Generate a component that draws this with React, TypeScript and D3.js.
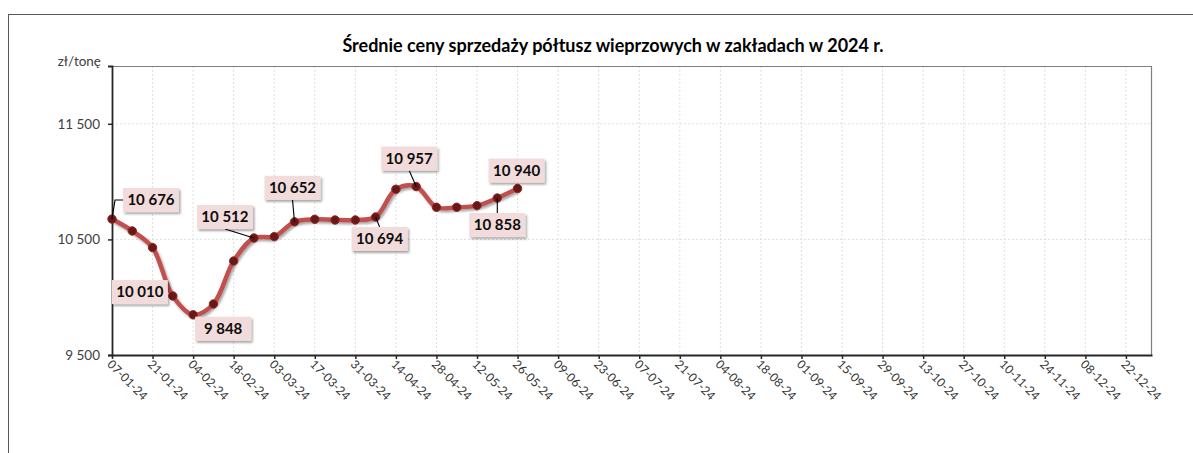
import React, { useEffect, useRef } from 'react';
import * as d3 from 'd3';

// weekly average prices (zl/tone), week starting dates
const weekDates = [
  '2024-01-07', '2024-01-14', '2024-01-21', '2024-01-28', '2024-02-04', '2024-02-11', '2024-02-18',
  '2024-02-25', '2024-03-03', '2024-03-10', '2024-03-17', '2024-03-24', '2024-03-31', '2024-04-07',
  '2024-04-14', '2024-04-21', '2024-04-28', '2024-05-05', '2024-05-12', '2024-05-19', '2024-05-26',
];
const prices = [
  10676, 10573, 10429, 10010, 9848, 9941, 10313,
  10512, 10524, 10652, 10674, 10668, 10668, 10694,
  10934, 10957, 10778, 10778, 10792, 10858, 10940,
];
const labeledWeeks = [0, 3, 4, 7, 9, 13, 15, 19, 20];

const tickDates = [
  '2024-01-07', '2024-01-21', '2024-02-04', '2024-02-18', '2024-03-03', '2024-03-17', '2024-03-31',
  '2024-04-14', '2024-04-28', '2024-05-12', '2024-05-26', '2024-06-09', '2024-06-23', '2024-07-07',
  '2024-07-21', '2024-08-04', '2024-08-18', '2024-09-01', '2024-09-15', '2024-09-29', '2024-10-13',
  '2024-10-27', '2024-11-10', '2024-11-24', '2024-12-08', '2024-12-22',
];
const yTicks = [9500, 10500, 11500];

const title = 'Średnie ceny sprzedaży półtusz wieprzowych w zakładach w 2024 r.';
const unitLabel = 'zł/tonę';

// where each data label box sits relative to its point, and how the leader line attaches
const labelPlacement: { dx: number; dy: number; leader: string }[] = [
  { dx: 39, dy: -19, leader: 'left' },
  { dx: -33, dy: -4, leader: 'none' },
  { dx: 30, dy: 14, leader: 'none' },
  { dx: -29, dy: -21, leader: 'bottom' },
  { dx: -2, dy: -34, leader: 'bottom' },
  { dx: 4, dy: 22, leader: 'top' },
  { dx: -7, dy: -28, leader: 'bottom' },
  { dx: 0, dy: 27, leader: 'top' },
  { dx: -1, dy: -18, leader: 'none' },
];

const W = 1193;
const H = 453;
const font = "Lato, 'Open Sans', sans-serif";
const fmt = (v: number) => d3.format(',')(v).replace(',', ' ');

function App() {
  const ref = useRef<SVGSVGElement>(null);

  useEffect(() => {
    const svg = d3.select(ref.current);
    svg.selectAll('*').remove();
    const parse = d3.timeParse('%Y-%m-%d');

    const left = 112, right = 1152, top = 66, bottom = 355;
    const x = d3.scaleTime()
      .domain([parse('2024-01-07') as Date, parse('2024-12-31') as Date])
      .range([left, right]);
    const y = d3.scaleLinear().domain([9500, 12000]).range([bottom, top]);

    const defs = svg.append('defs');
    defs.append('filter').attr('id', 'shadow')
      .attr('x', '-20%').attr('y', '-20%').attr('width', '150%').attr('height', '160%')
      .append('feDropShadow')
      .attr('dx', 1.5).attr('dy', 2).attr('stdDeviation', 1.2)
      .attr('flood-color', '#000').attr('flood-opacity', 0.35);

    // outer chart frame
    svg.append('line').attr('x1', 8).attr('x2', W).attr('y1', 14.5).attr('y2', 14.5)
      .attr('stroke', '#595959').attr('stroke-width', 1);
    svg.append('line').attr('x1', 8.5).attr('x2', 8.5).attr('y1', 14).attr('y2', H)
      .attr('stroke', '#595959').attr('stroke-width', 1);

    svg.append('text')
      .attr('x', 613).attr('y', 52)
      .attr('text-anchor', 'middle')
      .style('font-family', font).style('font-weight', 700).style('font-size', '18px')
      .attr('fill', '#000')
      .text(title);

    svg.append('text')
      .attr('x', 101).attr('y', 66)
      .attr('text-anchor', 'end')
      .style('font-family', font).style('font-size', '13.5px')
      .attr('fill', '#404040')
      .text(unitLabel);

    // gridlines
    const ticks = tickDates.map(d => parse(d) as Date);
    svg.append('g').selectAll('line').data(ticks.slice(1)).join('line')
      .attr('x1', d => x(d)).attr('x2', d => x(d))
      .attr('y1', top).attr('y2', bottom)
      .attr('stroke', '#dedede').attr('stroke-dasharray', '2,2');
    svg.append('g').selectAll('line').data(yTicks.slice(1)).join('line')
      .attr('x1', left).attr('x2', right)
      .attr('y1', d => y(d)).attr('y2', d => y(d))
      .attr('stroke', '#dedede').attr('stroke-dasharray', '2,2');

    // plot frame (top, right)
    svg.append('path')
      .attr('d', `M${left},${top + 0.5}H${right - 0.5}V${bottom}`)
      .attr('fill', 'none').attr('stroke', '#7f7f7f').attr('stroke-width', 1.2);

    // axes
    const yAxis = svg.append('g').attr('transform', `translate(${left},0)`)
      .call(d3.axisLeft(y).tickValues(yTicks).tickSize(4).tickFormat(d => fmt(d as number)));
    yAxis.select('.domain').attr('stroke', '#262626').attr('stroke-width', 1.8);
    yAxis.selectAll('.tick line').attr('stroke', '#262626').attr('stroke-width', 1.5);
    yAxis.selectAll('.tick text')
      .attr('x', -12)
      .style('font-family', font).style('font-size', '13.5px').attr('fill', '#404040');

    const xAxis = svg.append('g').attr('transform', `translate(0,${bottom})`)
      .call(d3.axisBottom(x).tickValues(ticks).tickSize(4).tickSizeOuter(0)
        .tickFormat(d => d3.timeFormat('%d-%m-%y')(d as Date)));
    xAxis.select('.domain').attr('stroke', '#262626').attr('stroke-width', 1.8);
    xAxis.selectAll('.tick line').attr('stroke', '#262626').attr('stroke-width', 1.5);
    xAxis.selectAll('.tick text')
      .attr('x', 0).attr('y', 0).attr('dy', 0)
      .attr('text-anchor', 'start')
      .attr('transform', 'translate(-6,10) rotate(45)')
      .style('font-family', font).style('font-size', '12px').attr('fill', '#333');

    // series
    const pts = weekDates.map((d, i) => ({ date: parse(d) as Date, value: prices[i] }));
    const line = d3.line<{ date: Date; value: number }>()
      .x(d => x(d.date)).y(d => y(d.value))
      .curve(d3.curveCatmullRom);

    svg.append('path')
      .datum(pts)
      .attr('d', line)
      .attr('fill', 'none')
      .attr('stroke', '#c0504d')
      .attr('stroke-width', 4.5)
      .style('stroke-linejoin', 'round')
      .attr('filter', 'url(#shadow)');

    svg.append('g').selectAll('circle').data(pts).join('circle')
      .attr('cx', d => x(d.date)).attr('cy', d => y(d.value))
      .attr('r', 4.2)
      .attr('fill', '#6a1717')
      .attr('stroke', '#8c2a28').attr('stroke-width', 1);

    // data labels
    const bw = 56, bh = 24;
    const labels = svg.append('g');
    labeledWeeks.forEach((wi, k) => {
      const p = pts[wi];
      const px = x(p.date), py = y(p.value);
      const pl = labelPlacement[k];
      const cx = px + pl.dx, cy = py + pl.dy;
      const g = labels.append('g');
      if (pl.leader === 'left') {
        g.append('path')
          .attr('d', `M${px},${py}L${cx - bw / 2 - 8},${cy}H${cx - bw / 2}`)
          .attr('fill', 'none').attr('stroke', '#000').attr('stroke-width', 1.1);
      } else if (pl.leader === 'bottom') {
        g.append('line').attr('x1', cx).attr('y1', cy + bh / 2).attr('x2', px).attr('y2', py)
          .attr('stroke', '#000').attr('stroke-width', 1.1);
      } else if (pl.leader === 'top') {
        g.append('line').attr('x1', cx).attr('y1', cy - bh / 2).attr('x2', px).attr('y2', py)
          .attr('stroke', '#000').attr('stroke-width', 1.1);
      }
      g.append('rect')
        .attr('x', cx - bw / 2).attr('y', cy - bh / 2)
        .attr('width', bw).attr('height', bh)
        .attr('fill', '#f2dcdb')
        .attr('filter', 'url(#shadow)');
      g.append('text')
        .attr('x', cx).attr('y', cy).attr('dy', '0.36em')
        .attr('text-anchor', 'middle')
        .style('font-family', font).style('font-weight', 700).style('font-size', '15px')
        .attr('fill', '#0d0d0d')
        .text(fmt(p.value));
    });
  }, []);

  return (
    <svg
      ref={ref}
      width={W}
      height={H}
      style={{ position: 'absolute', left: 0, top: 0, background: '#fff' }}
    />
  );
}

export default App;
